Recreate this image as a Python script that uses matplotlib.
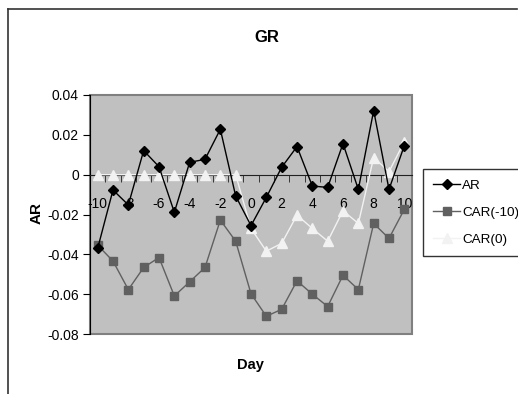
import numpy as np
import matplotlib
matplotlib.use("Agg")
import matplotlib.pyplot as plt
from matplotlib.lines import Line2D

plt.rcParams['font.family'] = ['Liberation Sans', 'DejaVu Sans']

# event window and series
days = list(range(-10, 11))
ar = [-0.037, -0.0077, -0.0152, 0.0121, 0.0040, -0.0189, 0.0062, 0.0077, 0.0228, -0.0107,
      -0.0256, -0.0114, 0.0037, 0.0141, -0.0057, -0.0064, 0.0156, -0.0074, 0.0322, -0.0074, 0.0146]
car_m10 = [-0.0354, -0.0434, -0.0577, -0.0466, -0.0416, -0.0609, -0.0538, -0.0466, -0.0228, -0.0334,
           -0.0598, -0.0711, -0.0676, -0.0533, -0.0600, -0.0662, -0.0505, -0.0577, -0.0245, -0.0320, -0.0174]
car_0 = [0, 0, 0, 0, 0, 0, 0, 0, 0, 0,
         -0.0270, -0.0384, -0.0345, -0.0203, -0.0270, -0.0334, -0.0181, -0.0245, 0.0086, 0.0015, 0.0166]
xtick_days = list(range(-10, 11, 2))
yticks = [0.04, 0.02, 0, -0.02, -0.04, -0.06, -0.08]
ytick_labels = ['0.04', '0.02', '0', '-0.02', '-0.04', '-0.06', '-0.08']

W, H = 518, 394
fig = plt.figure(figsize=(W / 100, H / 100), dpi=100)
ax = fig.add_axes([90 / W, 1 - 334 / H, 322 / W, 239 / H])
ax.set_facecolor('#C0C0C0')
ax.patch.set_edgecolor('#808080')
ax.patch.set_linewidth(1.5)

ax.plot(days, car_0, color='#F2F2F2', lw=1, marker='^', ms=6.5, mec='#F2F2F2', label='CAR(0)', zorder=3)
ax.plot(days, car_m10, color='#606060', lw=1, marker='s', ms=6, mec='#606060', label='CAR(-10)', zorder=4)
ax.plot(days, ar, color='black', lw=1, marker='D', ms=5.5, label='AR', zorder=5)

ax.set_xlim(-10.5, 10.5)
ax.set_ylim(-0.08, 0.04)

for s in ['top', 'right']:
    ax.spines[s].set_visible(False)
ax.spines['left'].set_color('black')
ax.spines['bottom'].set_position(('data', 0))
ax.spines['bottom'].set_color('#202020')

ax.set_yticks(yticks)
ax.set_yticklabels(ytick_labels)
ax.tick_params(axis='y', direction='out', length=5, labelsize=10, pad=3)

ax.set_xticks(xtick_days)
ax.set_xticklabels([str(d) for d in xtick_days])
ax.set_xticks(np.arange(-9.5, 10.5, 1), minor=True)
ax.tick_params(axis='x', which='major', length=0, labelsize=10, pad=16)
ax.tick_params(axis='x', which='minor', direction='out', length=5, color='#202020')

fig.text(267 / W, 1 - 38 / H, 'GR', ha='center', va='center', fontsize=12, fontweight='bold')
fig.text(250 / W, 1 - 365 / H, 'Day', ha='center', va='center', fontsize=10.5, fontweight='bold')
fig.text(37 / W, 1 - 213 / H, 'AR', ha='center', va='center', rotation=90, fontsize=11, fontweight='bold')

handles, labels = ax.get_legend_handles_labels()
order = [2, 1, 0]
leg = fig.legend([handles[i] for i in order], [labels[i] for i in order],
                 loc='upper left', bbox_to_anchor=(423 / W, 1 - 169 / H),
                 fontsize=9.7, frameon=True, fancybox=False, shadow=False,
                 handlelength=2.0, handletextpad=0.15, borderpad=0.75, labelspacing=1.1,
                 borderaxespad=0)
leg.get_frame().set_edgecolor('black')
leg.get_frame().set_linewidth(1)

# outer frame (left and top edges)
fig.add_artist(Line2D([8 / W, 8 / W], [0, 1 - 9 / H], color='#333333', lw=1.2))
fig.add_artist(Line2D([8 / W, 517 / W], [1 - 9 / H, 1 - 9 / H], color='#333333', lw=1.2))

fig.savefig('out.png', dpi=100)
